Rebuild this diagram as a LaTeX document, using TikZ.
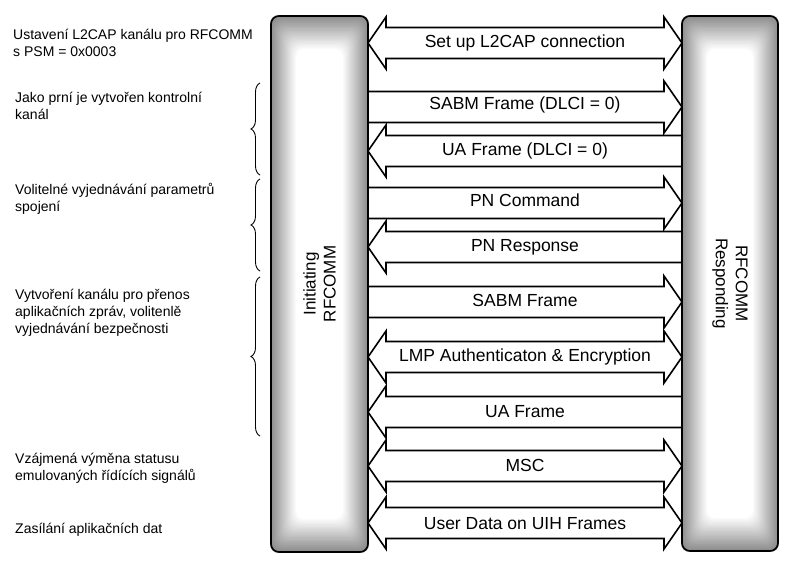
\documentclass[tikz,border=0pt]{standalone}
\usepackage{fontspec}
\setmainfont{Liberation Sans}
\usetikzlibrary{backgrounds,calc,decorations.pathreplacing}
\newcommand\sh{15.5}
\newcommand\hh{26}
\newcommand\hl{18}
\newcommand\xa{368}
\newcommand\xb{682}
% right-pointing block arrow: #1 centre y, #2 name, #3 label y, #4 text
\newcommand\rarrow[4]{%
  \draw[msg] (\xa,#1-\sh) -- (\xb-\hl,#1-\sh) -- (\xb-\hl,#1-\hh) -- (\xb,#1)
    -- (\xb-\hl,#1+\hh) -- (\xb-\hl,#1+\sh) -- (\xa,#1+\sh) -- cycle;
  \node[lbl] (#2) at (525,#3) {#4};}
\newcommand\larrow[4]{%
  \draw[msg] (\xb,#1-\sh) -- (\xa+\hl,#1-\sh) -- (\xa+\hl,#1-\hh) -- (\xa,#1)
    -- (\xa+\hl,#1+\hh) -- (\xa+\hl,#1+\sh) -- (\xb,#1+\sh) -- cycle;
  \node[lbl] (#2) at (525,#3) {#4};}
\newcommand\darrow[4]{%
  \draw[msg] (\xa,#1) -- (\xa+\hl,#1-\hh) -- (\xa+\hl,#1-\sh) -- (\xb-\hl,#1-\sh)
    -- (\xb-\hl,#1-\hh) -- (\xb,#1) -- (\xb-\hl,#1+\hh) -- (\xb-\hl,#1+\sh)
    -- (\xa+\hl,#1+\sh) -- (\xa+\hl,#1+\hh) -- cycle;
  \node[lbl] (#2) at (525,#3) {#4};}
\begin{document}
\begin{tikzpicture}[x=1bp,y=-1bp,
  col/.style={draw=black, line width=1.6bp, rounded corners=8bp, inner sep=0pt},
  msg/.style={draw=black, fill=white, line width=1.6bp, line join=miter},
  lbl/.style={font=\fontsize{17.5bp}{20bp}\selectfont, anchor=base, inner sep=0pt},
  side/.style={font=\fontsize{14bp}{17bp}\selectfont, anchor=base west, align=left, inner sep=0pt},
  coltxt/.style={font=\fontsize{17bp}{20bp}\selectfont, align=center, inner sep=0pt},
  brc/.style={decorate, decoration={brace, amplitude=9bp}, line width=0.9bp}]
\useasboundingbox (0,0) rectangle (792,563);

% columns
\node[col, minimum width=97bp, minimum height=536bp] (L) at (319.5,284) {};
\node[col, minimum width=96bp, minimum height=535bp] (R) at (730,283.5) {};
\begin{pgfonlayer}{background}
\fill[white] (0,0) rectangle (792,563);
\foreach \n in {L,R}{
  \foreach \i in {0,...,26}{
    \pgfmathsetmacro\g{46*(1-\i/26)}
    \fill[black!\g, rounded corners=8bp] ($(\n.north west)+(\i,1.3*\i)$) rectangle ($(\n.south east)+(-\i,-1.3*\i)$);
  }}
\end{pgfonlayer}
\node[coltxt, rotate=90] (Lt) at (L.center) {Initiating\\RFCOMM};
\node[coltxt, rotate=-90] (Rt) at (R.center) {RFCOMM\\Responding};

% messages
\darrow{43}{m1}{48}{Set up L2CAP connection}
\rarrow{107}{m2}{110}{SABM Frame (DLCI = 0)}
\larrow{151}{m3}{156}{UA Frame (DLCI = 0)}
\rarrow{203}{m4}{207}{PN Command}
\larrow{247}{m5}{251}{PN Response}
\rarrow{302}{m6}{306}{SABM Frame}
\darrow{357}{m7}{361}{LMP Authenticaton \& Encryption}
\larrow{412}{m8}{417}{UA Frame}
\darrow{466}{m9}{471}{MSC}
\darrow{523}{m10}{529}{User Data on UIH Frames}

% side notes (anchor = baseline of last line)
\node[side] (s1) at (13,57) {Ustavení L2CAP kanálu pro RFCOMM\\s PSM = 0x0003};
\node[side] (s2) at (15,120) {Jako prní je vytvořen kontrolní\\kanál};
\node[side] (s3) at (15,212) {Volitelné vyjednávání parametrů\\spojení};
\node[side] (s4) at (15,333) {Vytvoření kanálu pro přenos\\aplikačních zpráv, volitenlě\\vyjednávání bezpečnosti};
\node[side] (s5) at (15,480) {Vzájmená výměna statusu\\emulovaných řídících signálů};
\node[side] (s6) at (15,533) {Zasílání aplikačních dat};

% braces
\draw[brc] (260,175) -- (260,83);
\draw[brc] (260,271) -- (260,179);
\draw[brc] (260,436) -- (260,277);
\end{tikzpicture}
\end{document}
